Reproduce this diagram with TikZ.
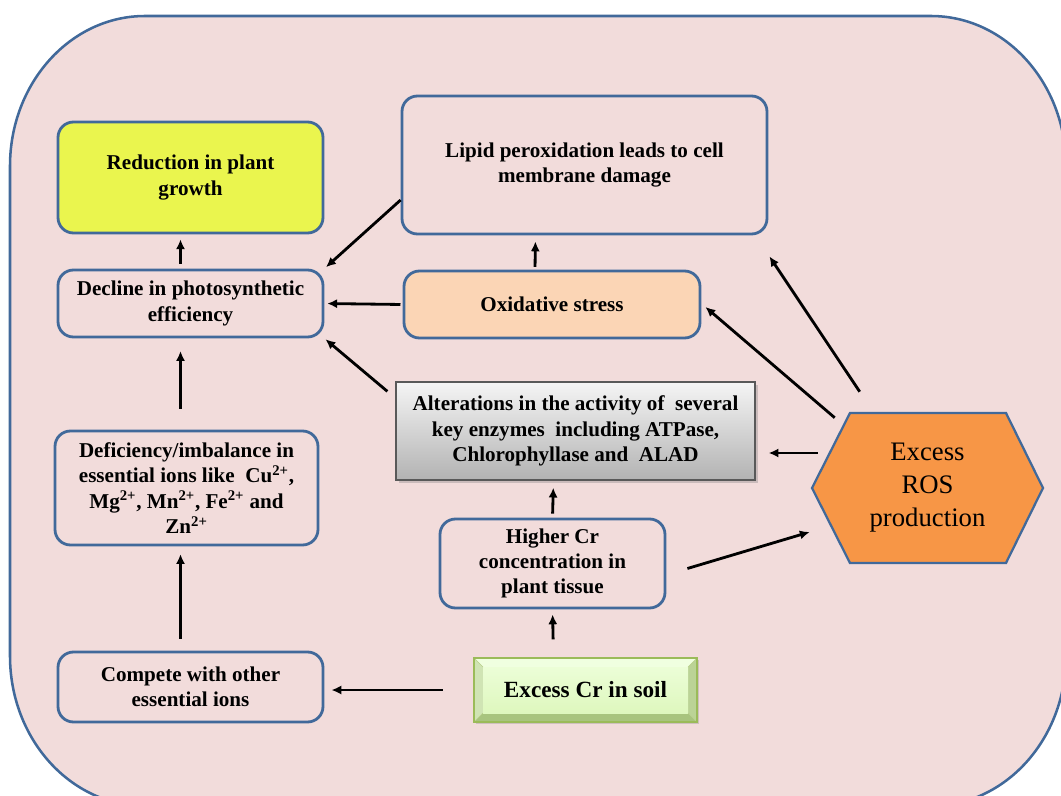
\documentclass[tikz,border=0pt]{standalone}
\usepackage{fontspec}
\setmainfont{Liberation Serif}
\usetikzlibrary{arrows.meta,calc,shadows}
\definecolor{bgpink}{HTML}{F2DCDB}
\definecolor{boxblue}{HTML}{41699A}
\definecolor{growthyellow}{HTML}{EAF54E}
\definecolor{stresspeach}{HTML}{FBD5B5}
\definecolor{rosorange}{HTML}{F79646}
\definecolor{soilline}{HTML}{9BBB59}
\definecolor{soilface}{HTML}{E2FBC2}
\definecolor{soillight}{HTML}{F0FFE0}
\definecolor{soildark}{HTML}{A8C47E}
\definecolor{soilmid}{HTML}{BBD396}
\tikzset{
  sized/.style 2 args={minimum width=#1*0.025cm, minimum height=#2*0.025cm},
  box/.style={draw=boxblue, line width=2pt, rounded corners=11pt, fill=bgpink,
    align=center, inner sep=0pt, font=\bfseries\fontsize{15}{18}\selectfont},
  enzbox/.style={draw=black!65, line width=0.9pt, top color=black!4, bottom color=black!30,
    drop shadow={shadow xshift=2pt, shadow yshift=-2pt, opacity=0.35},
    align=center, inner sep=0pt, font=\bfseries\fontsize{15}{18}\selectfont},
  soilbox/.style={draw=soilline, line width=0.8pt, fill=soilface,
    drop shadow={shadow xshift=1.5pt, shadow yshift=-1.5pt, opacity=0.3},
    align=center, inner sep=0pt, font=\bfseries\fontsize{16.5}{20}\selectfont},
  rosbox/.style={fill=bgpink, align=center, inner sep=0pt,
    font=\fontsize{19}{23.5}\selectfont},
  flow/.style={-{Latex[length=7pt,width=6.5pt]}, line width=2pt},
}
\begin{document}
\begin{tikzpicture}[x=0.025cm, y=-0.025cm]
\useasboundingbox (0,0) rectangle (1061,796);
\clip (0,0) rectangle (1061,796);
% Frame
\draw[fill=bgpink, draw=boxblue, line width=1.8pt]
	(145,16) -- (931,16) .. controls (1005.6,16) and (1066,83.2) .. (1066,166)
	-- (1066,656) .. controls (1066,738.8) and (1005.6,806) .. (931,806)
	-- (145,806) .. controls (70.4,806) and (10,738.8) .. (10,656)
	-- (10,166) .. controls (10,83.2) and (70.4,16) .. (145,16) -- cycle;

% Boxes
\node[box, sized={265}{111}, fill=growthyellow] (growth) at (190.5,177.5)
	{Reduction in plant\\growth};
\node[box, sized={365}{138}] (lipid) at (584.5,165)
	{Lipid peroxidation leads to cell\\membrane damage};
\node[box, sized={265}{67}] (decline) at (190.5,303.5)
	{Decline in photosynthetic\\efficiency};
\node[box, sized={296}{67}, fill=stresspeach] (stress) at (552,304.5)
	{Oxidative stress};
\node[enzbox, sized={359}{98}] (enzymes) at (575.5,431)
	{Alterations in the activity of\ \ several\\key enzymes\ \ including ATPase,\\Chlorophyllase and\ \ ALAD};
\node[box, sized={263}{114}] (deficiency) at (186.5,488)
	{Deficiency/imbalance in\\essential ions like\ \ Cu\textsuperscript{2+},\\Mg\textsuperscript{2+}, Mn\textsuperscript{2+}, Fe\textsuperscript{2+} and\\Zn\textsuperscript{2+}};
\node[box, sized={225}{89}] (higher) at (552.5,563.5)
	{Higher Cr\\concentration in\\plant tissue};
\node[box, sized={265}{70}] (compete) at (190.5,687)
	{Compete with other\\essential ions};

% Bevelled soil box
\node[soilbox, sized={223}{64}, path picture={
	\coordinate (oNW) at (path picture bounding box.north west);
	\coordinate (oNE) at (path picture bounding box.north east);
	\coordinate (oSE) at (path picture bounding box.south east);
	\coordinate (oSW) at (path picture bounding box.south west);
	\coordinate (iNW) at ($(oNW)+(9,9)$);
	\coordinate (iNE) at ($(oNE)+(-9,9)$);
	\coordinate (iSE) at ($(oSE)+(-9,-9)$);
	\coordinate (iSW) at ($(oSW)+(9,-9)$);
	\fill[soillight] (oNW) -- (oNE) -- (iNE) -- (iNW) -- cycle;
	\fill[soilmid!60!soillight] (oNW) -- (iNW) -- (iSW) -- (oSW) -- cycle;
	\fill[soildark] (oSW) -- (iSW) -- (iSE) -- (oSE) -- cycle;
	\fill[soilmid] (oNE) -- (oSE) -- (iSE) -- (iNE) -- cycle;
	\shade[top color=soillight!70!soilface, bottom color=soilface!90!soilmid] (iNW) rectangle (iSE);
	\draw[soilline!70, line width=0.4pt] (oNW) -- (iNW) (oNE) -- (iNE) (oSE) -- (iSE) (oSW) -- (iSW);
	}] (soil) at (585.5,690) {Excess Cr\ in\ soil};

% Hexagon
\node[rosbox, sized={235}{154}, path picture={
	\path[fill=rosorange, draw=boxblue, line width=1.6pt]
		($(path picture bounding box.west)+(2,0)$)
		-- ($(path picture bounding box.north west)+(40,2)$)
		-- ($(path picture bounding box.north east)+(-39,2)$)
		-- ($(path picture bounding box.east)+(-2,0)$)
		-- ($(path picture bounding box.south east)+(-39,-2)$)
		-- ($(path picture bounding box.south west)+(40,-2)$) -- cycle;
	}] (ros) at (927.5,488) {Excess\\ROS\\production};

% Arrows
\draw[flow, shorten <=3.5pt, shorten >=3.5pt] ($(decline.north)+(-10,0)$) -- ($(growth.south)+(-10,0)$);
\draw[flow, shorten <=15pt, shorten >=9pt] ($(deficiency.north)+(-6,0)$) -- ($(decline.south)+(-10,0)$);
\draw[flow, shorten <=8.5pt, shorten >=5.5pt] ($(compete.north)+(-10,0)$) -- ($(deficiency.south)+(-6,0)$);
\draw[flow, shorten <=22pt, shorten >=5pt] (soil.west) -- ($(compete.east)+(0,3)$);
\draw[flow, shorten <=12.8pt, shorten >=3.6pt] ($(soil.north)+(-32,0)$) -- (higher.south);
\draw[flow, shorten <=2.8pt, shorten >=5pt] (higher.north) -- ($(enzymes.south)+(-22,0)$);
\draw[flow, shorten <=2pt, shorten >=4.3pt] ($(stress.north)+(-17,0)$) -- ($(lipid.south)+(-49,0)$);
\draw[flow, shorten <=1.5pt, shorten >=2pt] (stress.west) -- (decline.east);
\draw[flow, shorten >=1.5pt] ($(lipid.west)+(0,35)$) -- (decline.north east);
\draw[flow, shorten >=1pt] ($(enzymes.north west)+(-8,10)$) -- (decline.south east);
\draw[flow] ($(higher.east)+(21,5)$) -- ($(ros.west)+(0,44)$);
\draw[flow] ($(ros.west)+(8,-35)$) -- ($(enzymes.east)+(13,22)$);
\draw[flow] ($(ros.north west)+(25,7)$) -- ($(stress.east)+(4,2.5)$);
\draw[flow] ($(ros.north west)+(50,-19)$) -- ($(lipid.south east)+(1,21)$);

\end{tikzpicture}
\end{document}
